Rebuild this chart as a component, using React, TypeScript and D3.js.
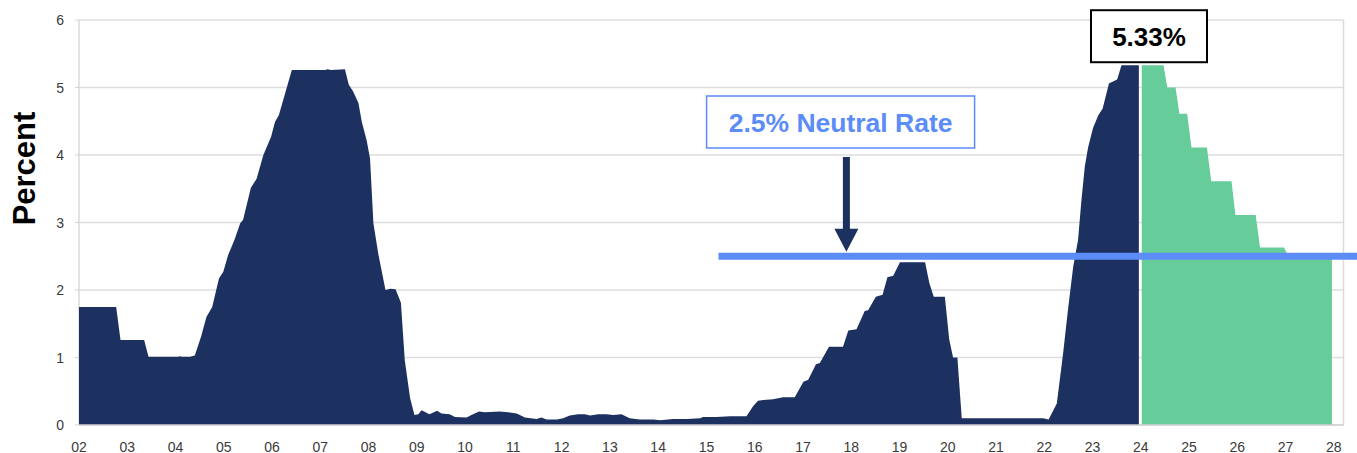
import React from "react";
import * as d3 from "d3";

// Effective policy rate history (decimal year, percent)
const historyYears = [
  2002.0, 2002.77, 2002.86, 2003.35, 2003.44, 2004.05, 2004.09, 2004.13, 2004.3, 2004.4,
  2004.53, 2004.64, 2004.76, 2004.9, 2004.99, 2005.09, 2005.22, 2005.34, 2005.4, 2005.56,
  2005.68, 2005.82, 2005.98, 2006.06, 2006.14, 2006.27, 2006.41, 2007.1, 2007.15, 2007.22,
  2007.51, 2007.59, 2007.68, 2007.79, 2007.86, 2007.96, 2008.03, 2008.1, 2008.2, 2008.35,
  2008.45, 2008.56, 2008.67, 2008.75, 2008.86, 2008.95, 2009.03, 2009.1, 2009.26, 2009.42,
  2009.51, 2009.68, 2009.79, 2010.03, 2010.13, 2010.29, 2010.41, 2010.72, 2010.89, 2011.07,
  2011.24, 2011.48, 2011.58, 2011.69, 2011.9, 2012.03, 2012.17, 2012.34, 2012.48, 2012.59,
  2012.76, 2012.93, 2013.07, 2013.24, 2013.41, 2013.62, 2013.9, 2014.04, 2014.31, 2014.59,
  2014.87, 2014.93, 2015.21, 2015.49, 2015.83, 2015.97, 2016.07, 2016.18, 2016.38, 2016.59,
  2016.83, 2017.01, 2017.11, 2017.27, 2017.35, 2017.54, 2017.83, 2017.94, 2018.11, 2018.28,
  2018.35, 2018.51, 2018.65, 2018.75, 2018.87, 2019.01, 2019.53, 2019.62, 2019.71, 2019.94,
  2020.03, 2020.11, 2020.2, 2020.29, 2021.98, 2022.09, 2022.26, 2022.39, 2022.49, 2022.6,
  2022.7, 2022.77, 2022.84, 2022.91, 2023.01, 2023.12, 2023.21, 2023.34, 2023.51, 2023.6,
  2023.96,
];
const historyValues = [
  1.75, 1.75, 1.26, 1.26, 1.01, 1.01, 1.02, 1.01, 1.01, 1.03,
  1.31, 1.6, 1.75, 2.17, 2.27, 2.52, 2.74, 2.99, 3.04, 3.51,
  3.65, 4.0, 4.27, 4.49, 4.59, 4.91, 5.26, 5.26, 5.27, 5.26,
  5.27, 5.04, 4.94, 4.77, 4.49, 4.22, 3.95, 2.99, 2.54, 2.0,
  2.02, 2.01, 1.81, 0.96, 0.4, 0.15, 0.16, 0.22, 0.16, 0.21,
  0.17, 0.16, 0.12, 0.11, 0.15, 0.2, 0.19, 0.2, 0.19, 0.17,
  0.11, 0.09, 0.11, 0.08, 0.08, 0.1, 0.14, 0.16, 0.16, 0.14,
  0.16, 0.16, 0.15, 0.16, 0.1, 0.08, 0.08, 0.07, 0.09, 0.09,
  0.1, 0.12, 0.12, 0.13, 0.13, 0.28, 0.36, 0.37, 0.38, 0.41,
  0.41, 0.64, 0.67, 0.9, 0.92, 1.16, 1.16, 1.4, 1.42, 1.69,
  1.7, 1.9, 1.93, 2.19, 2.21, 2.41, 2.41, 2.1, 1.9, 1.9,
  1.27, 1.0, 1.0, 0.1, 0.1, 0.08, 0.32, 1.06, 1.7, 2.35,
  2.74, 3.33, 3.83, 4.12, 4.4, 4.59, 4.69, 5.06, 5.12, 5.33,
  5.33,
];

// Projected path of the policy rate
const projectionYears = [
  2024.02, 2024.47, 2024.55, 2024.72, 2024.8, 2024.96, 2025.05, 2025.37, 2025.46, 2025.88,
  2025.96, 2026.38, 2026.47, 2026.97, 2027.05, 2027.96,
];
const projectionValues = [
  5.33, 5.33, 5.0, 5.0, 4.61, 4.61, 4.11, 4.11, 3.61, 3.61,
  3.11, 3.11, 2.63, 2.63, 2.5, 2.5,
];

const neutralRate = 2.5;
const neutralStartYear = 2015.25;

const yTickValues = [0, 1, 2, 3, 4, 5, 6];
const xTickYears = d3.range(2002, 2029);
const xTickLabels = xTickYears.map((yr) => String(yr % 100).padStart(2, "0"));

const W = 1357;
const H = 453;
const plot = { left: 79, right: 1343.5, top: 20, bottom: 425 };

const NAVY = "#1c3160";
const GREEN = "#66cc99";
const BLUE = "#5b8cf8";
const GRID = "#dedede";

export default function App() {
  const x = d3.scaleLinear().domain([2002, 2028.2]).range([plot.left, plot.right]);
  const y = d3.scaleLinear().domain([0, 6]).range([plot.bottom, plot.top]);

  const areaFor = (years: number[], values: number[]) =>
    d3
      .area<number>()
      .x((_, i) => x(years[i]))
      .y0(y(0))
      .y1((v) => y(v))(values) || "";

  const peak = d3.max(historyValues) as number;
  const peakIdx = historyValues.indexOf(peak);

  // Annotation: peak label box
  const peakBox = { cx: x(2024.17), w: 116, h: 52 };
  const peakBoxBottom = y(peak) - 3;

  // Annotation: neutral-rate label and arrow
  const neutralY = y(neutralRate);
  const lineWidth = 7;
  const labelBox = { cx: x(2017.78), top: 96, w: 268, h: 52 };
  const arrowX = x(2017.9);
  const arrowTop = 157;
  const arrowTip = neutralY - lineWidth / 2 - 1;
  const headH = 23;
  const headW = 24;

  const font = "'Liberation Sans', Arial, sans-serif";

  return (
    <svg
      width={W}
      height={H}
      style={{ position: "absolute", left: 0, top: 0, background: "#fff" }}
      fontFamily={font}
    >
      {/* gridlines */}
      {yTickValues.map((t) => (
        <line
          key={"g" + t}
          x1={plot.left}
          x2={plot.right}
          y1={y(t)}
          y2={y(t)}
          stroke={GRID}
          strokeWidth={1.3}
        />
      ))}
      {/* frame */}
      <line x1={plot.left} x2={plot.left} y1={plot.top} y2={plot.bottom} stroke="#d4d4d4" strokeWidth={1.3} />
      <line x1={plot.right} x2={plot.right} y1={plot.top} y2={plot.bottom} stroke="#dcdcdc" strokeWidth={1.5} />
      {yTickValues.map((t) => (
        <line key={"tk" + t} x1={plot.left - 4} x2={plot.left} y1={y(t)} y2={y(t)} stroke="#d4d4d4" strokeWidth={1} />
      ))}

      {/* areas */}
      <path d={areaFor(historyYears, historyValues)} fill={NAVY} />
      <path d={areaFor(projectionYears, projectionValues)} fill={GREEN} />

      <line x1={plot.left} x2={plot.right} y1={plot.bottom} y2={plot.bottom} stroke="#d0d0d0" strokeWidth={1.3} />

      {/* y tick labels */}
      {yTickValues.map((t) => (
        <text
          key={"yl" + t}
          x={plot.left - 15}
          y={y(t)}
          dy="0.36em"
          textAnchor="end"
          fontSize={14}
          fill="#3a3a3a"
        >
          {t}
        </text>
      ))}
      {/* x tick labels */}
      {xTickYears.map((yr, i) => (
        <text key={"xl" + yr} x={x(yr)} y={451.5} textAnchor="middle" fontSize={14} fill="#3a3a3a">
          {xTickLabels[i]}
        </text>
      ))}

      {/* axis title */}
      <text
        transform={`translate(35,168.5) rotate(-90)`}
        textAnchor="middle"
        fontSize={31}
        fontWeight="bold"
        fill="#000"
      >
        Percent
      </text>

      {/* neutral rate line */}
      <line
        x1={x(neutralStartYear)}
        x2={W}
        y1={neutralY}
        y2={neutralY}
        stroke={BLUE}
        strokeWidth={lineWidth}
      />

      {/* arrow */}
      <rect x={arrowX - 3.5} y={arrowTop} width={7} height={arrowTip - headH - arrowTop + 1} fill={NAVY} />
      <path
        d={`M${arrowX - headW / 2},${arrowTip - headH} L${arrowX + headW / 2},${arrowTip - headH} L${arrowX},${arrowTip} Z`}
        fill={NAVY}
      />

      {/* neutral rate label */}
      <rect
        x={labelBox.cx - labelBox.w / 2}
        y={labelBox.top}
        width={labelBox.w}
        height={labelBox.h}
        fill="#fff"
        stroke={BLUE}
        strokeWidth={1.5}
      />
      <text
        x={labelBox.cx}
        y={labelBox.top + labelBox.h / 2}
        dy="0.36em"
        textAnchor="middle"
        fontSize={26.5}
        fontWeight="bold"
        fill={BLUE}
      >
        {`${neutralRate}% Neutral Rate`}
      </text>

      {/* peak label */}
      <rect
        x={peakBox.cx - peakBox.w / 2}
        y={peakBoxBottom - peakBox.h}
        width={peakBox.w}
        height={peakBox.h}
        fill="#fff"
        stroke="#000"
        strokeWidth={2}
      />
      <text
        x={peakBox.cx}
        y={peakBoxBottom - peakBox.h / 2}
        dy="0.36em"
        textAnchor="middle"
        fontSize={26}
        fontWeight="bold"
        fill="#000"
        data-idx={peakIdx}
      >
        {`${peak.toFixed(2)}%`}
      </text>
    </svg>
  );
}
